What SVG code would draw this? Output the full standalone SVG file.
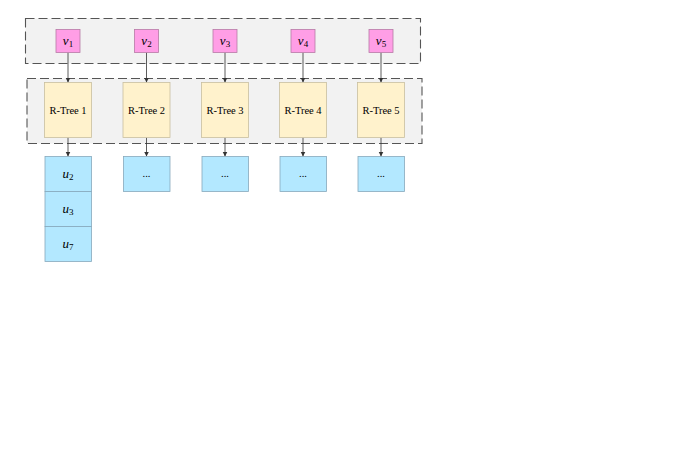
<svg xmlns="http://www.w3.org/2000/svg" width="675" height="473" viewBox="0 0 675 473">
<style>
.cont{fill:#f2f2f2;stroke:#555;stroke-width:1.1;stroke-dasharray:9 4}
.v{fill:#ff9ee6;stroke:#b77aa6;stroke-width:0.8}
.rt{fill:#fff2cc;stroke:#c9bfa0;stroke-width:0.8}
.b{fill:#b3e8ff;stroke:#87a9bc;stroke-width:0.8}
.t{font-family:"Liberation Serif",serif;font-size:10.5px;fill:#000;text-anchor:middle}
.vt{font-family:"Liberation Serif",serif;font-size:13px;font-style:italic;fill:#000;text-anchor:middle}
.sub{font-size:9px;font-style:normal}
.c{stroke:#333;stroke-width:0.8;fill:none;marker-end:url(#ah)}
</style>
<defs>
<marker id="ah" markerWidth="6" markerHeight="6" refX="5" refY="3" orient="auto" markerUnits="userSpaceOnUse">
<path d="M0,0.5 L5,3 L0,5.5 Z" fill="#333"/>
</marker>
</defs>
<rect width="675" height="473" fill="#fff"/>
<g id="container-top"><rect class="cont" x="25.5" y="18.5" width="395" height="45"/></g>
<g id="container-mid"><rect class="cont" x="27" y="78.5" width="395" height="65"/></g>
<g id="connectors">
<line class="c" x1="68" y1="52.5" x2="68" y2="82.5"/>
<line class="c" x1="146.5" y1="52.5" x2="146.5" y2="82.5"/>
<line class="c" x1="225" y1="52.5" x2="225" y2="82.5"/>
<line class="c" x1="303" y1="52.5" x2="303" y2="82.5"/>
<line class="c" x1="381" y1="52.5" x2="381" y2="82.5"/>
<line class="c" x1="68" y1="137.5" x2="68" y2="156.5"/>
<line class="c" x1="146.5" y1="137.5" x2="146.5" y2="156.5"/>
<line class="c" x1="225" y1="137.5" x2="225" y2="156.5"/>
<line class="c" x1="303" y1="137.5" x2="303" y2="156.5"/>
<line class="c" x1="381" y1="137.5" x2="381" y2="156.5"/>
</g>
<g id="v1"><rect class="v" x="56" y="29.5" width="24" height="23"/><text class="vt" x="68" y="45">v<tspan class="sub" dy="2">1</tspan></text></g>
<g id="v2"><rect class="v" x="134.5" y="29.5" width="24" height="23"/><text class="vt" x="146.5" y="45">v<tspan class="sub" dy="2">2</tspan></text></g>
<g id="v3"><rect class="v" x="213" y="29.5" width="24" height="23"/><text class="vt" x="225" y="45">v<tspan class="sub" dy="2">3</tspan></text></g>
<g id="v4"><rect class="v" x="291" y="29.5" width="24" height="23"/><text class="vt" x="303" y="45">v<tspan class="sub" dy="2">4</tspan></text></g>
<g id="v5"><rect class="v" x="369" y="29.5" width="24" height="23"/><text class="vt" x="381" y="45">v<tspan class="sub" dy="2">5</tspan></text></g>
<g id="rtree1"><rect class="rt" x="44.5" y="82.5" width="47" height="55"/><text class="t" x="68" y="113.5">R-Tree 1</text></g>
<g id="rtree2"><rect class="rt" x="123" y="82.5" width="47" height="55"/><text class="t" x="146.5" y="113.5">R-Tree 2</text></g>
<g id="rtree3"><rect class="rt" x="201.5" y="82.5" width="47" height="55"/><text class="t" x="225" y="113.5">R-Tree 3</text></g>
<g id="rtree4"><rect class="rt" x="279.5" y="82.5" width="47" height="55"/><text class="t" x="303" y="113.5">R-Tree 4</text></g>
<g id="rtree5"><rect class="rt" x="357.5" y="82.5" width="47" height="55"/><text class="t" x="381" y="113.5">R-Tree 5</text></g>
<g id="list1">
<rect class="b" x="45" y="156.5" width="46.5" height="35"/><text class="vt" x="68" y="178">u<tspan class="sub" dy="2">2</tspan></text>
<rect class="b" x="45" y="191.5" width="46.5" height="35"/><text class="vt" x="68" y="213">u<tspan class="sub" dy="2">3</tspan></text>
<rect class="b" x="45" y="226.5" width="46.5" height="35"/><text class="vt" x="68" y="248">u<tspan class="sub" dy="2">7</tspan></text>
</g>
<g id="list2"><rect class="b" x="123.5" y="156.5" width="46.5" height="35"/><text class="t" x="146.5" y="177">...</text></g>
<g id="list3"><rect class="b" x="202" y="156.5" width="46.5" height="35"/><text class="t" x="225" y="177">...</text></g>
<g id="list4"><rect class="b" x="280" y="156.5" width="46.5" height="35"/><text class="t" x="303" y="177">...</text></g>
<g id="list5"><rect class="b" x="358" y="156.5" width="46.5" height="35"/><text class="t" x="381" y="177">...</text></g>
</svg>
